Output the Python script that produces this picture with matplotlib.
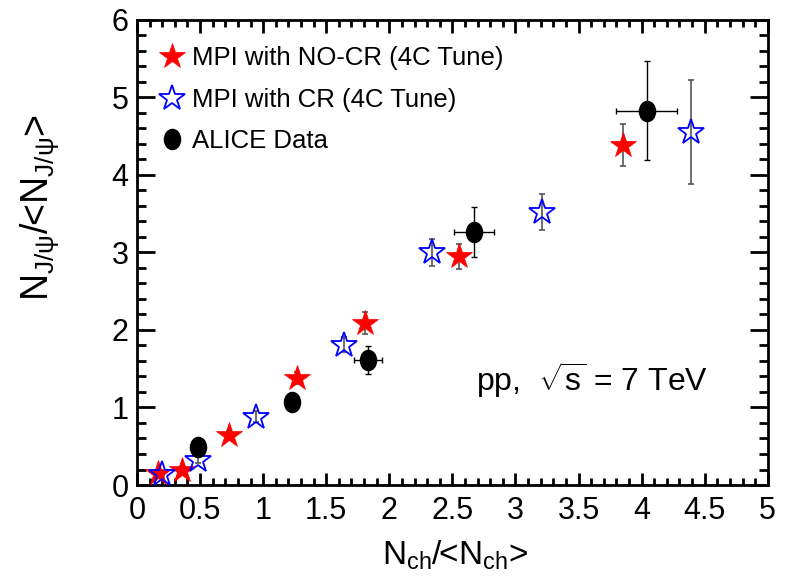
import matplotlib
matplotlib.use("Agg")
import numpy as np
import matplotlib.pyplot as plt
from matplotlib.path import Path
from matplotlib.lines import Line2D
from matplotlib.ticker import MultipleLocator

plt.rcParams['font.family'] = ['Liberation Sans', 'DejaVu Sans']
plt.rcParams['mathtext.fontset'] = 'custom'
plt.rcParams['mathtext.rm'] = 'Liberation Sans'
plt.rcParams['mathtext.it'] = 'Liberation Sans:italic'
plt.rcParams['mathtext.bf'] = 'Liberation Sans:bold'

# PYTHIA 4C, MPI without colour reconnection
nocr_x = [0.17, 0.36, 0.73, 1.27, 1.81, 2.55, 3.85]
nocr_y = [0.16, 0.20, 0.65, 1.38, 2.09, 2.95, 4.39]
nocr_err = [0.03, 0.03, 0.05, 0.08, 0.14, 0.16, 0.27]

# PYTHIA 4C, MPI with colour reconnection
cr_x = [0.20, 0.48, 0.94, 1.64, 2.34, 3.21, 4.39]
cr_y = [0.14, 0.32, 0.88, 1.81, 3.00, 3.52, 4.55]
cr_err = [0.03, 0.04, 0.07, 0.10, 0.17, 0.23, 0.67]

# ALICE measurement
alice_x = [0.48, 1.23, 1.83, 2.67, 4.04]
alice_y = [0.49, 1.07, 1.61, 3.26, 4.83]
alice_xerr = [0.02, 0.03, 0.11, 0.16, 0.24]
alice_yerr = [0.05, 0.08, 0.18, 0.32, 0.64]

xticks = [0, 0.5, 1, 1.5, 2, 2.5, 3, 3.5, 4, 4.5, 5]
xtick_labels = ['0', '0.5', '1', '1.5', '2', '2.5', '3', '3.5', '4', '4.5', '5']
yticks = [0, 1, 2, 3, 4, 5, 6]

# slightly tall ellipse, like the ROOT full circle on this canvas
circ = Path.unit_circle()
ellipse = Path(circ.vertices * np.array([0.8, 1.0]), circ.codes)

fig = plt.figure(figsize=(7.85, 5.84), dpi=100)
ax = fig.add_axes([0.1745, 0.1695, 0.8035, 0.7965])

ax.errorbar(nocr_x, nocr_y, yerr=nocr_err, fmt='none', ecolor='#555555',
            elinewidth=1.2, capsize=2, capthick=1.2, zorder=2)
ax.errorbar(cr_x, cr_y, yerr=cr_err, fmt='none', ecolor='#555555',
            elinewidth=1.2, capsize=2, capthick=1.2, zorder=2)
ax.errorbar(alice_x, alice_y, xerr=alice_xerr, yerr=alice_yerr, fmt='none',
            ecolor='black', elinewidth=1.0, capsize=2, capthick=1.0, zorder=2)

ax.plot(nocr_x, nocr_y, ls='none', marker='*', ms=19, mfc='red', mec='red',
        mew=0.5, zorder=3)
ax.plot(cr_x, cr_y, ls='none', marker='*', ms=19, mfc='none', mec='blue',
        mew=1.3, zorder=4)
ax.plot(alice_x, alice_y, ls='none', marker=ellipse, ms=14.5, mfc='black',
        mec='black', zorder=5)

ax.set_xlim(0, 5)
ax.set_ylim(0, 6)
ax.set_xticks(xticks)
ax.set_xticklabels(xtick_labels)
ax.set_yticks(yticks)
ax.xaxis.set_minor_locator(MultipleLocator(0.1))
ax.yaxis.set_minor_locator(MultipleLocator(0.2))
ax.tick_params(which='both', direction='in', top=True, right=True,
               labelsize=22, width=2)
ax.tick_params(axis='x', which='major', length=9, pad=8)
ax.tick_params(axis='x', which='minor', length=5)
ax.tick_params(axis='y', which='major', length=13, pad=6)
ax.tick_params(axis='y', which='minor', length=6.5)
for s in ax.spines.values():
    s.set_linewidth(2)

handles = [
    Line2D([], [], ls='none', marker='*', ms=19, mfc='red', mec='red', mew=0.5),
    Line2D([], [], ls='none', marker='*', ms=19, mfc='none', mec='blue', mew=1.3),
    Line2D([], [], ls='none', marker=ellipse, ms=14.5, mfc='black', mec='black'),
]
labels = ['MPI with NO-CR (4C Tune)', 'MPI with CR (4C Tune)', 'ALICE Data']
ax.legend(handles, labels, loc='upper left', bbox_to_anchor=(0.035, 0.943),
          frameon=False, fontsize=18.5, borderaxespad=0, borderpad=0,
          handlelength=1.0, handletextpad=0.3, labelspacing=0.68)

ax.text(0.537, 0.226, r'pp,  $\sqrt{\mathrm{s}}$ = 7 TeV', transform=ax.transAxes,
        fontsize=23, ha='left', va='center')

fig.text(40 / 785, 1 - 208 / 584, r'N$_{\mathrm{J/\psi}}$/<N$_{\mathrm{J/\psi}}$>',
         rotation=90, fontsize=27, ha='center', va='center')
fig.text(455 / 785, 1 - 555 / 584, r'N$_{\mathrm{ch}}$/<N$_{\mathrm{ch}}$>',
         fontsize=24, ha='center', va='center')

fig.savefig('out.png', dpi=100)
